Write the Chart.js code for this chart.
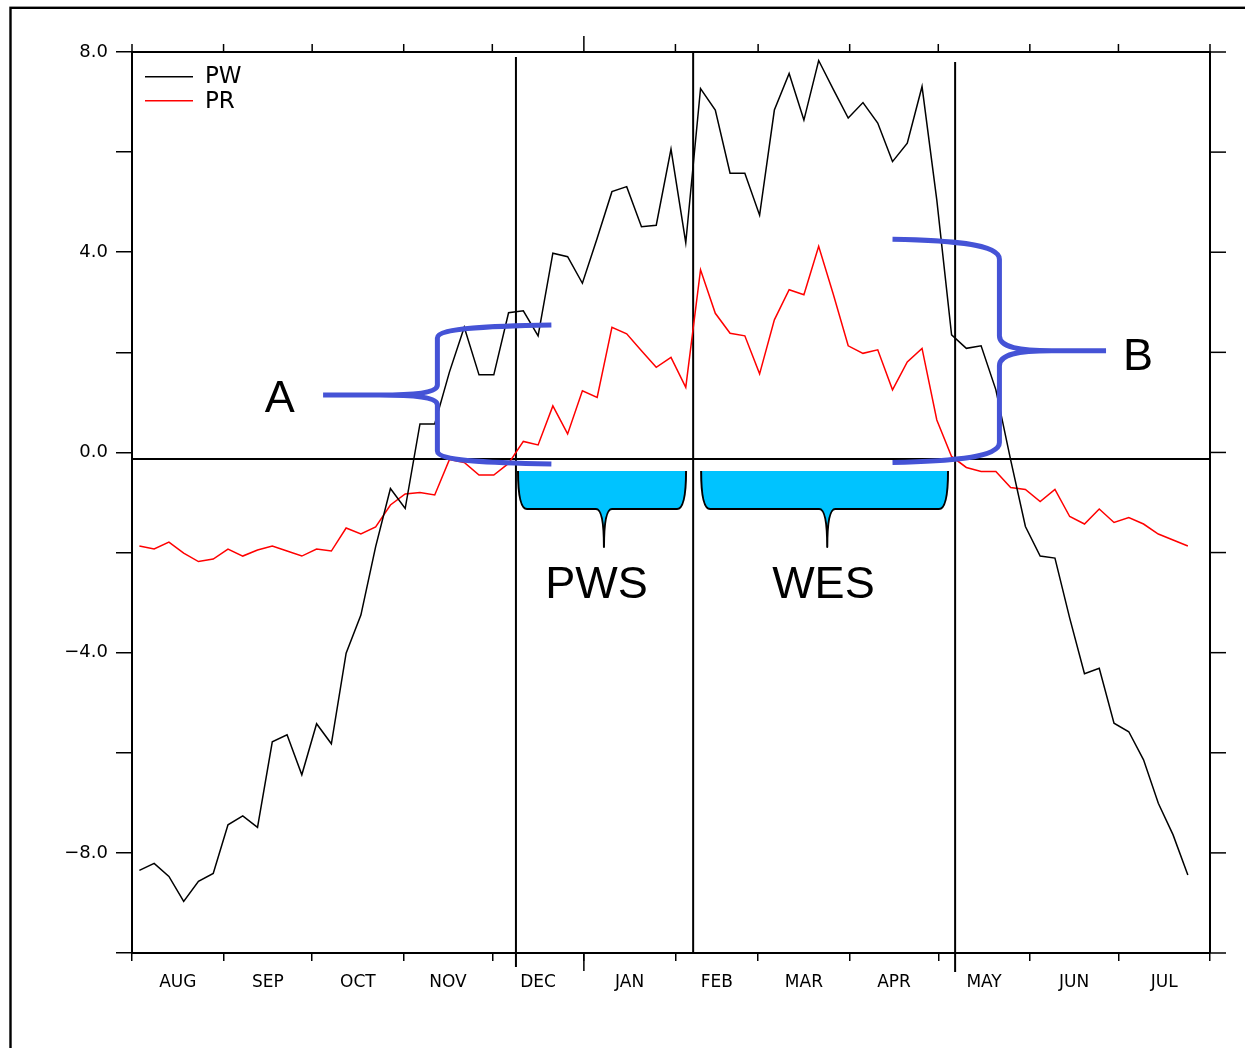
<!DOCTYPE html>
<html>
<head>
<meta charset="utf-8">
<title>PW / PR pentad climatology</title>
<script src="https://cdn.jsdelivr.net/npm/chart.js@4.4.1/dist/chart.umd.min.js"></script>
<style>
  html, body { margin: 0; padding: 0; background: #fff; }
  #wrap { width: 1245px; height: 1048px; }
</style>
</head>
<body>
<div id="wrap"><canvas id="chart" width="1245" height="1048"></canvas></div>
<script>
// pentads counted from 1 Aug (only the first 72 are plotted)
const pentads = Array.from({ length: 72 }, (_, i) => i + 1);

const monthNames = ['AUG', 'SEP', 'OCT', 'NOV', 'DEC', 'JAN', 'FEB', 'MAR', 'APR', 'MAY', 'JUN', 'JUL'];
// day of year (from 1 Aug) where each month starts, last one is the end of July
const monthStartDays = [0, 31, 61, 92, 122, 153, 184, 212, 243, 273, 304, 334, 365];

const pwValues = [
  -8.35, -8.21, -8.47, -8.97, -8.57, -8.41, -7.44, -7.26, -7.49, -5.78,
  -5.64, -6.44, -5.42, -5.82, -4.01, -3.25, -1.88, -0.72, -1.12, 0.57,
  0.57, 1.61, 2.50, 1.55, 1.55, 2.79, 2.83, 2.33, 3.98, 3.91,
  3.38, 4.28, 5.21, 5.31, 4.51, 4.54, 6.06, 4.19, 7.27, 6.84,
  5.58, 5.58, 4.74, 6.84, 7.57, 6.64, 7.83, 7.25, 6.68, 6.99,
  6.58, 5.81, 6.18, 7.31, 5.04, 2.35, 2.08, 2.13, 1.25, -0.15,
  -1.48, -2.07, -2.11, -3.31, -4.42, -4.31, -5.41, -5.58, -6.14, -7.01,
  -7.64, -8.44
];

const prValues = [
  -1.87, -1.93, -1.79, -2.01, -2.18, -2.13, -1.93, -2.07, -1.95, -1.87,
  -1.97, -2.07, -1.93, -1.97, -1.51, -1.63, -1.49, -1.05, -0.83, -0.80,
  -0.85, -0.14, -0.20, -0.45, -0.45, -0.22, 0.22, 0.15, 0.93, 0.37,
  1.23, 1.10, 2.50, 2.37, 2.03, 1.70, 1.90, 1.30, 3.65, 2.78,
  2.38, 2.33, 1.57, 2.65, 3.25, 3.15, 4.12, 3.15, 2.13, 1.98,
  2.05, 1.25, 1.81, 2.08, 0.65, -0.08, -0.30, -0.38, -0.38, -0.70,
  -0.74, -0.98, -0.74, -1.28, -1.43, -1.13, -1.40, -1.30, -1.43, -1.63,
  -1.75, -1.87
];

const yLabelValues = [-8, -4, 0, 4, 8];
const yLabelTexts = ['\u22128.0', '\u22124.0', '0.0', '4.0', '8.0'];

// phase boundaries (days from 1 Aug) and the reference level drawn across
const phaseDays = [130, 190, 278.7];
const refLevel = -0.13;

const monthMidDays = monthStartDays.slice(0, -1).map((d, i) => (d + monthStartDays[i + 1]) / 2);
const pentadDays = pentads.map(p => (p - 0.5) * 5);

const BLUE = '#4553d6';
const CYAN = '#00c3ff';

function seg(c, x1, y1, x2, y2) {
  c.beginPath();
  c.moveTo(x1, y1);
  c.lineTo(x2, y2);
  c.stroke();
}

// curly brace: stem at sx, arms reach ex, point at tx (all pixels)
function curlyBrace(c, sx, ex, tx, yt, ym, yb, cv, th, tv) {
  const dir = Math.sign(ex - sx);
  const L = Math.abs(ex - sx);
  c.beginPath();
  c.moveTo(ex, yt);
  c.bezierCurveTo(sx + dir * 0.5 * L, yt + 1, sx, yt + 0.2 * cv, sx, yt + cv);
  c.lineTo(sx, ym - tv);
  c.bezierCurveTo(sx, ym - 0.25 * tv, sx - dir * 0.35 * th, ym, sx - dir * th, ym);
  c.lineTo(tx, ym);
  c.moveTo(sx - dir * th, ym);
  c.bezierCurveTo(sx - dir * 0.35 * th, ym, sx, ym + 0.25 * tv, sx, ym + tv);
  c.lineTo(sx, yb - cv);
  c.bezierCurveTo(sx, yb - 0.2 * cv, sx + dir * 0.5 * L, yb - 1, ex, yb);
  c.stroke();
}

// filled downward brace
function bucketBrace(c, L, R, T, yT, yB, yP) {
  const cw = 9, tw = 8;
  const path = () => {
    c.moveTo(L, yT);
    c.quadraticCurveTo(L, yB, L + cw, yB);
    c.lineTo(T - tw, yB);
    c.quadraticCurveTo(T, yB, T, yP);
    c.quadraticCurveTo(T, yB, T + tw, yB);
    c.lineTo(R - cw, yB);
    c.quadraticCurveTo(R, yB, R, yT);
  };
  c.beginPath();
  path();
  c.closePath();
  c.fillStyle = CYAN;
  c.fill();
  c.beginPath();
  path();
  c.strokeStyle = '#000';
  c.lineWidth = 2;
  c.stroke();
}

const decorPlugin = {
  id: 'decor',
  beforeDraw(chart) {
    const c = chart.ctx;
    c.save();
    c.fillStyle = '#fff';
    c.fillRect(0, 0, chart.width, chart.height);
    c.strokeStyle = '#000';
    c.lineWidth = 2.4;
    c.strokeRect(10.5, 7.8, chart.width + 40, chart.height + 40);
    c.restore();
  },
  beforeDatasetsDraw(chart) {
    const c = chart.ctx;
    const a = chart.chartArea;
    const X = v => chart.scales.x.getPixelForValue(v);
    const Y = v => chart.scales.y.getPixelForValue(v);
    c.save();
    c.strokeStyle = '#000';
    c.lineWidth = 2;
    // top and right frame of the plot
    seg(c, a.left - 1, a.top, a.right + 1, a.top);
    seg(c, a.right, a.top, a.right, a.bottom);
    c.lineWidth = 1.5;
    monthStartDays.forEach(d => {
      const len = d === 153 ? 16 : 8;
      seg(c, X(d), a.top, X(d), a.top - len);
    });
    // year boundary tick is longer below too
    seg(c, X(153), a.bottom, X(153), a.bottom + 18);
    chart.scales.y.ticks.forEach(t => seg(c, a.right, Y(t.value), a.right + 16, Y(t.value)));
    // phase boundaries
    c.lineWidth = 2;
    seg(c, X(phaseDays[0]), Y(7.9), X(phaseDays[0]), Y(-10.28));
    seg(c, X(phaseDays[1]), Y(8), X(phaseDays[1]), Y(-10));
    seg(c, X(phaseDays[2]), Y(7.8), X(phaseDays[2]), Y(-10.38));
    seg(c, X(0), Y(refLevel), X(365), Y(refLevel));
    c.restore();
  },
  afterDatasetsDraw(chart) {
    const c = chart.ctx;
    const a = chart.chartArea;
    const X = v => chart.scales.x.getPixelForValue(v);
    const Y = v => chart.scales.y.getPixelForValue(v);
    c.save();

    // legend
    chart.data.datasets.forEach((ds, i) => {
      const y = a.top + 24.7 + i * 24;
      c.strokeStyle = ds.borderColor;
      c.lineWidth = 1.5;
      seg(c, a.left + 13, y, a.left + 61, y);
      c.fillStyle = '#000';
      c.font = '23px "DejaVu Sans"';
      c.textAlign = 'left';
      c.textBaseline = 'alphabetic';
      c.fillText(ds.label, a.left + 73, y + 6.5 + i * 1);
    });

    // onset / retreat braces
    c.strokeStyle = BLUE;
    c.lineWidth = 5;
    c.lineCap = 'butt';
    c.lineJoin = 'round';
    curlyBrace(c, X(103.4), X(142.0), X(64.7), Y(2.547), Y(1.148), Y(-0.23), 13, 58, 10);
    curlyBrace(c, X(293.7), X(257.5), X(329.8), Y(4.26), Y(2.033), Y(-0.20), 20, 52, 15);

    bucketBrace(c, X(130.7), X(187.6), X(159.8), Y(-0.37), Y(-1.13), Y(-1.89));
    bucketBrace(c, X(192.7), X(276.3), X(235.4), Y(-0.37), Y(-1.13), Y(-1.89));

    c.fillStyle = '#000';
    c.font = '45px "Liberation Sans", Arial, sans-serif';
    c.textAlign = 'center';
    c.textBaseline = 'alphabetic';
    c.fillText('A', X(50.0), Y(0.809));
    c.fillText('B', X(340.6), Y(1.648));
    c.fillText('PWS', X(157.3), Y(-2.90));
    c.fillText('WES', X(234.1), Y(-2.90));
    c.restore();
  }
};

new Chart(document.getElementById('chart'), {
  type: 'line',
  data: {
    datasets: [
      {
        label: 'PW',
        data: pentadDays.map((d, i) => ({ x: d, y: pwValues[i] })),
        borderColor: '#000000',
        borderWidth: 1.5,
        pointRadius: 0,
        tension: 0
      },
      {
        label: 'PR',
        data: pentadDays.map((d, i) => ({ x: d, y: prValues[i] })),
        borderColor: '#ff0000',
        borderWidth: 1.5,
        pointRadius: 0,
        tension: 0
      }
    ]
  },
  options: {
    responsive: false,
    animation: false,
    devicePixelRatio: 1,
    layout: { padding: { top: 52, right: 35, bottom: 0, left: 0 } },
    plugins: {
      legend: { display: false },
      tooltip: { enabled: false }
    },
    scales: {
      x: {
        type: 'linear',
        min: 0,
        max: 365,
        afterBuildTicks(scale) {
          const vals = monthStartDays.concat(monthMidDays).sort((p, q) => p - q);
          scale.ticks = vals.map(v => ({ value: v }));
        },
        afterFit(scale) { scale.height = 95; },
        grid: {
          drawOnChartArea: false,
          tickLength: 8,
          lineWidth: 1.5,
          color: ctx => (ctx.tick && monthStartDays.includes(ctx.tick.value)) ? '#000' : 'rgba(0,0,0,0)'
        },
        border: { display: true, color: '#000', width: 2 },
        ticks: {
          autoSkip: false,
          maxRotation: 0,
          minRotation: 0,
          padding: 11,
          color: '#000',
          font: { family: 'DejaVu Sans', size: 17 },
          callback: v => {
            const k = monthMidDays.indexOf(v);
            return k >= 0 ? monthNames[k] : '';
          }
        }
      },
      y: {
        min: -10,
        max: 8,
        afterFit(scale) { scale.width = 132; },
        grid: {
          drawOnChartArea: false,
          tickLength: 16,
          lineWidth: 1.5,
          color: '#000'
        },
        border: { display: true, color: '#000', width: 2 },
        ticks: {
          stepSize: 2,
          padding: 8,
          color: '#000',
          font: { family: 'DejaVu Sans', size: 18 },
          callback: v => {
            const k = yLabelValues.indexOf(v);
            return k >= 0 ? yLabelTexts[k] : '';
          }
        }
      }
    }
  },
  plugins: [decorPlugin]
});
</script>
</body>
</html>
